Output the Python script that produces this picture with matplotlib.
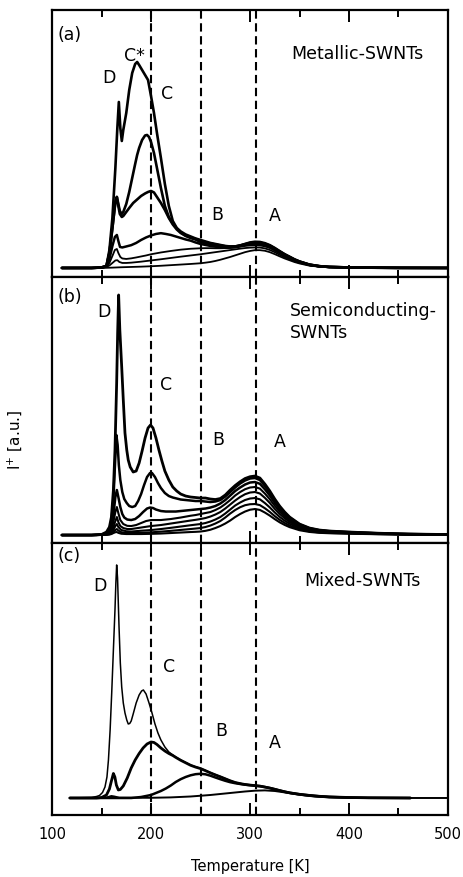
import numpy as np
import matplotlib
matplotlib.use("Agg")
import matplotlib.pyplot as plt
from matplotlib.ticker import MultipleLocator

plt.rcParams['font.family'] = ['DejaVu Sans']

# ---- Panel (a): Metallic-SWNTs, spectra for increasing dose (temperature K, intensity a.u.)
metallic_1 = [(110,0),(140,0),(150,0.5),(155,2),(158,18),(161,50),(164,100),(166,140),(167.5,166),(169,140),(170.5,127),(172,138),(175,155),(178,178),(181,195),(184,204),(186,206),(188,203),(191,198),(194,193),(197,188),(200,172),(203,155),(206,135),(210,110),(214,84),(218,62),(222,47),(226,40),(230,36.5),(235,33.5),(240,31.5),(245,29.5),(250,28),(255,26.5),(260,25),(265,24),(270,23),(275,22),(280,21.5),(285,21.5),(290,22.5),(295,24),(300,25.5),(305,26.2),(310,26),(315,24.8),(320,22.8),(325,20),(330,16.8),(335,13.8),(340,11.2),(345,8.6),(350,6.5),(360,3.4),(370,1.8),(380,1),(400,0.5),(420,0.3),(450,0.1),(500,0)]
metallic_2 = [(110,0),(140,0),(150,0.5),(155,2),(158,15),(161,40),(164,66),(165.5,71),(167,64),(168.5,57),(170.5,54),(172,56),(175,64),(178,76),(181,90),(184,104),(186,113),(188,120),(191,128),(194,132.5),(196,133),(198,131),(200,126),(203,115),(206,100),(210,80),(214,62),(218,51),(222,44.5),(226,39.5),(230,35.5),(235,32.5),(240,30.5),(245,29),(250,27),(255,25.5),(260,24.5),(265,23.5),(270,22.5),(275,21.7),(280,21.3),(285,21.5),(290,22.5),(295,23.8),(300,25),(305,25.6),(310,25.4),(315,24.2),(320,22.4),(325,19.6),(330,16.5),(335,13.5),(340,11),(345,8.4),(350,6.4),(360,3.3),(370,1.8),(380,1),(400,0.5),(420,0.3),(450,0.1),(500,0)]
metallic_3 = [(110,0),(140,0),(150,0.5),(155,2),(158,15),(161,40),(164,66),(165.5,71),(167,62),(168.5,54),(170.5,51),(172,52),(175,56),(178,60),(182,65),(186,68.5),(190,72),(194,74.5),(197,76),(200,77),(203,75.5),(206,71),(210,65),(214,58),(218,50),(222,43.5),(226,38.5),(230,35),(235,32),(240,30),(245,28.5),(250,26),(255,24.8),(260,23.8),(265,23),(270,22),(275,21.3),(280,21),(285,21.2),(290,22.2),(295,23.4),(300,24.5),(305,25),(310,24.8),(315,23.7),(320,22),(325,19.2),(330,16.2),(335,13.2),(340,10.7),(345,8.2),(350,6.2),(360,3.2),(370,1.7),(380,1),(400,0.5),(420,0.3),(450,0.1),(500,0)]
metallic_4 = [(110,0),(140,0),(150,0.3),(155,1.5),(158,9),(161,22),(163.5,31),(165.5,33),(167,27),(168.7,21),(171,20.5),(175,21.5),(180,22.8),(185,25),(190,28),(195,30.5),(200,32.5),(205,34),(210,34.8),(215,34),(220,33),(225,31.5),(230,30),(235,28.5),(240,27.3),(245,25.5),(250,24),(255,23),(260,22),(265,21.3),(270,20.8),(275,20.5),(280,20.5),(285,21),(290,22),(295,23),(300,23.8),(305,24.2),(310,24),(315,23),(320,21.2),(325,18.5),(330,15.6),(335,12.7),(340,10.3),(345,7.9),(350,6),(360,3.1),(370,1.7),(380,1),(400,0.5),(420,0.3),(450,0.1),(500,0)]
metallic_5 = [(110,0),(145,0),(150,0.3),(155,1.5),(158,5),(161,12),(163.5,18),(165.5,19),(167,15),(169,11),(171,9.5),(175,9),(180,9.6),(185,10.5),(190,11.5),(195,12.5),(200,13.7),(210,15.5),(220,17),(230,18.3),(240,19.2),(250,19.7),(255,19.8),(260,19.8),(265,19.7),(270,19.7),(275,19.8),(280,20),(285,20.5),(290,21.2),(295,22),(300,22.5),(305,22.7),(310,22.5),(315,21.6),(320,19.9),(325,17.4),(330,14.6),(335,11.9),(340,9.7),(345,7.4),(350,5.6),(360,2.9),(370,1.6),(380,0.9),(400,0.5),(420,0.3),(450,0.1),(500,0)]
metallic_6 = [(110,0),(145,0),(150,0.2),(155,1),(158,2.5),(161,5),(164,7.5),(166,7.8),(168,6),(171,5),(175,5),(180,5.3),(190,6.3),(200,7.5),(210,8.7),(220,10),(230,11.3),(240,12.5),(250,13.7),(255,14.4),(260,15.1),(265,15.8),(270,16.5),(275,17.2),(280,17.9),(285,18.6),(290,19.3),(295,19.9),(300,20.3),(305,20.5),(310,20.4),(315,19.6),(320,18),(325,15.8),(330,13.2),(335,10.8),(340,8.8),(345,6.7),(350,5.1),(360,2.7),(370,1.4),(380,0.8),(400,0.4),(420,0.2),(450,0.1),(500,0)]
metallic_7 = [(110,0),(150,0),(160,0.3),(170,0.7),(180,1),(190,1.3),(200,1.7),(210,2.2),(220,2.8),(230,3.4),(240,4),(250,4.7),(255,5.3),(260,6),(265,7),(270,8.2),(275,9.6),(280,11),(285,12.6),(290,14.2),(295,15.8),(300,17),(305,17.8),(310,17.8),(315,17.2),(320,15.8),(325,13.8),(330,11.6),(335,9.5),(340,7.7),(345,5.9),(350,4.5),(360,2.3),(370,1.3),(380,0.7),(400,0.4),(420,0.2),(450,0.1),(500,0)]

# ---- Panel (b): Semiconducting-SWNTs
semi_1 = [(110,0),(140,0),(150,0.5),(155,3),(158,8),(160,18),(162,45),(163.6,85),(165.3,152),(166.3,202),(167.3,240),(168.5,205),(170.4,168),(172,135),(173.7,102),(175.5,85),(177,75),(179,68),(182,63),(185,64),(188,72),(191,84),(194,97),(197,107),(199.5,110),(202,107),(205,97),(208,85),(211,74),(214,64),(218,55),(222,48),(226,44),(230,41),(235,39),(240,38),(245,37.5),(250,37),(255,37),(260,36),(265,35.5),(270,36.5),(275,40),(280,45),(285,49.5),(290,53.3),(295,56.5),(300,58.3),(305,59),(310,57),(315,51),(320,44),(325,36),(330,28.9),(335,23),(340,18),(350,11),(360,7),(370,5),(380,4),(400,3),(430,1.8),(460,1),(500,0.5)]
semi_2 = [(110,0),(140,0),(150,0.5),(155,2),(158,6),(160,14),(162,35),(163.6,70),(165,100),(166.3,90),(167.5,70),(169,55),(171,43),(173,36),(175.5,32),(178,29),(181,28),(184,29),(187,34),(190,41),(193,50),(196,58),(199,62),(201,62),(204,58),(207,52),(210,47),(214,42),(218,39),(222,37.5),(226,36.5),(230,35.5),(235,35),(240,34.5),(245,34),(250,34),(255,33.5),(260,33),(265,33.5),(270,35),(275,38.5),(280,43),(285,47.5),(290,51.5),(295,54.5),(300,56.5),(305,57),(310,55),(315,49.2),(320,42.5),(325,34.8),(330,27.9),(335,22.2),(340,17.4),(350,10.6),(360,6.8),(370,4.8),(380,3.9),(400,2.9),(430,1.7),(460,1),(500,0.5)]
semi_3 = [(110,0),(140,0),(150,0.3),(155,1.5),(158,4),(160,9),(162,20),(164,38),(165.5,45),(167,38),(169,28),(171,21),(173,17.5),(176,15.5),(180,15),(184,16),(188,19),(192,23),(196,26.5),(199,27.5),(202,27),(205,25.5),(210,24),(215,23.5),(220,23.5),(225,23.5),(230,24),(235,24.5),(240,25),(245,25.5),(250,26),(255,26.5),(260,27.5),(265,29),(270,31.5),(275,35),(280,39.5),(285,44),(290,47.5),(295,50.5),(300,52.5),(305,53),(310,51.2),(315,45.8),(320,39.5),(325,32.3),(330,26),(335,20.7),(340,16.2),(350,9.9),(360,6.3),(370,4.5),(380,3.6),(400,2.7),(430,1.6),(460,0.9),(500,0.4)]
semi_4 = [(110,0),(140,0),(150,0.3),(155,1.2),(158,3),(160,6),(162,13),(164,23),(165.5,28),(167,22),(169,15),(172,11),(176,9.2),(180,9),(185,10),(190,12),(195,14),(200,15),(205,15),(210,15),(220,16),(230,17.5),(240,19.3),(245,20),(250,21),(255,22),(260,23),(265,25),(270,27.5),(275,31),(280,35),(285,39.5),(290,43),(295,45.8),(300,47.5),(305,48),(310,46.4),(315,41.5),(320,35.8),(325,29.3),(330,23.5),(335,18.7),(340,14.6),(350,8.9),(360,5.7),(370,4.1),(380,3.3),(400,2.4),(430,1.4),(460,0.8),(500,0.4)]
semi_5 = [(110,0),(140,0),(150,0.2),(155,0.8),(158,2),(160,4),(162,8),(164,14),(165.5,18),(167,13),(169,9),(172,7),(176,6),(180,6),(190,7.5),(200,9),(210,10),(220,11.5),(230,13),(240,14.5),(245,15.2),(250,16),(255,17),(260,18.5),(265,20.5),(270,23),(275,26.5),(280,30.5),(285,34.5),(290,38),(295,40.8),(300,42.5),(305,43),(310,41.5),(315,37.2),(320,32.1),(325,26.2),(330,21.1),(335,16.8),(340,13.1),(350,8),(360,5.1),(370,3.7),(380,2.9),(400,2.2),(430,1.3),(460,0.7),(500,0.3)]
semi_6 = [(110,0),(145,0),(155,0.5),(158,1.2),(160,2.5),(162,5),(164,9),(165.5,11),(167,8),(170,5),(175,3.8),(180,3.5),(190,4.3),(200,5),(210,6),(220,7.2),(230,8.5),(240,9.8),(245,10.4),(250,11),(255,12),(260,13.5),(265,15.5),(270,18),(275,21.5),(280,25.5),(285,29.5),(290,32.5),(295,35),(300,36.5),(305,37),(310,35.7),(315,32),(320,27.6),(325,22.6),(330,18.1),(335,14.4),(340,11.3),(350,6.9),(360,4.4),(370,3.1),(380,2.5),(400,1.9),(430,1.1),(460,0.6),(500,0.3)]
semi_7 = [(110,0),(145,0),(155,0.3),(158,0.8),(160,1.5),(162,3),(164,5),(165.5,6),(167,4.5),(170,2.8),(175,2),(180,2),(190,2.3),(200,2.7),(210,3.4),(220,4.2),(230,5.1),(240,6),(245,6.5),(250,7),(255,8),(260,9.5),(265,11.5),(270,14),(275,17.5),(280,21.5),(285,25),(290,27.8),(295,29.8),(300,30.8),(305,31),(310,29.9),(315,26.8),(320,23.1),(325,18.9),(330,15.2),(335,12.1),(340,9.5),(350,5.8),(360,3.7),(370,2.6),(380,2.1),(400,1.6),(430,0.9),(460,0.5),(500,0.2)]
semi_8 = [(110,0),(145,0),(155,0.2),(158,0.5),(160,1),(162,2),(164,2.8),(165.5,3),(167,2.2),(170,1.3),(175,1),(180,1),(190,1),(200,1.2),(210,1.5),(220,2),(230,2.5),(240,3),(245,3.2),(250,3.5),(255,4.2),(260,5.3),(265,7),(270,9),(275,11.5),(280,14.5),(285,18),(290,21),(295,23.5),(300,25.3),(305,26),(310,25.1),(315,22.5),(320,19.4),(325,15.9),(330,12.7),(335,10.1),(340,7.9),(350,4.8),(360,3.1),(370,2.2),(380,1.8),(400,1.3),(430,0.8),(460,0.4),(500,0.2)]

# ---- Panel (c): Mixed-SWNTs
mixed_1 = [(118,0),(140,0.5),(145,1.5),(148,2.5),(151,5.5),(153.5,11),(155.5,21),(157,38),(158.7,68),(160.3,105),(162,148),(163.6,188),(164.5,215),(165.3,233),(166.2,220),(167.7,171),(169,135),(170.4,111),(172,95),(173.7,85),(175.5,78),(177,74),(178.5,74.5),(180,77),(182,84),(185,95),(188,103),(190.5,107),(192.3,108),(195,104),(198,95),(201,85),(204,74),(207,65),(210,58),(214,51),(218,46),(222,43),(225,41),(230,38),(235,35.5),(240,33),(245,31.2),(250,29.7),(255,27.6),(260,25.4),(265,23.4),(270,21.5),(275,19.5),(280,17.4),(285,15.7),(290,14.6),(295,13.6),(300,13),(305,12.5),(310,12),(315,11),(320,10),(325,8.8),(330,7.5),(335,6.3),(340,5.3),(350,3.8),(360,2.7),(370,1.8),(380,1.2),(400,0.5),(420,0.2),(462,0)]
mixed_2 = [(118,0),(145,0),(150,0.5),(155,3),(158,9),(160,17),(162,24.5),(163.5,21),(165,13),(167,8),(169,8.5),(172,12),(176,20),(180,30),(184,38),(188,44.5),(192,50),(196,54),(200,56),(203,55.5),(206,53.5),(210,50),(214,47),(218,44.5),(222,42.5),(225,40.6),(230,37.7),(235,35.2),(240,32.7),(245,30.9),(250,29.4),(255,27.3),(260,25.1),(265,23.1),(270,21.2),(275,19.2),(280,17.2),(285,15.5),(290,14.4),(295,13.5),(300,12.9),(305,12.4),(310,11.9),(315,10.9),(320,9.9),(325,8.7),(330,7.4),(335,6.2),(340,5.2),(350,3.7),(360,2.6),(370,1.7),(380,1.1),(400,0.5),(420,0.2),(462,0)]
mixed_3 = [(118,0),(180,0),(185,0.5),(190,1),(195,2),(200,3),(205,5),(210,7),(215,9.5),(220,12.5),(225,16),(230,18.8),(235,21),(240,22.7),(245,23.8),(250,24.2),(255,23.7),(260,22.3),(265,20.5),(270,18.8),(275,17.2),(280,15.8),(285,14.8),(290,14),(295,13.3),(300,12.8),(305,12.3),(310,11.8),(315,11),(320,10),(325,8.8),(330,7.5),(335,6.3),(340,5.2),(350,3.7),(360,2.6),(370,1.7),(380,1.1),(400,0.4),(420,0.2),(462,0)]
mixed_4 = [(118,0),(150,0),(155,0.5),(160,2),(163,1.5),(168,0.3),(200,0.2),(220,0.6),(240,1.5),(260,3),(280,5),(295,6.5),(305,7.3),(315,7.6),(325,7),(335,5.6),(345,4),(355,2.6),(365,1.5),(380,0.6),(400,0.2),(420,0),(500,0)]

# Desorption peak positions marked by dashed guides (K)
peak_temps = [200, 250, 306]
x_ticks = [100, 200, 300, 400, 500]

panels = [
    dict(curves=[metallic_1, metallic_2, metallic_3, metallic_4, metallic_5, metallic_6, metallic_7],
         widths=[1.9, 1.9, 1.9, 1.8, 1.3, 1.3, 1.3], ylim=(-9, 258), rect=[0.1121, 0.6842, 0.8534, 0.3044],
         tag="(a)", tag_y=0.906, title="Metallic-SWNTs", title_xy=(0.770, 0.835), title_ha="center",
         letters=[("C*", 182.8, 212), ("D", 157.6, 190), ("C", 216.2, 174), ("B", 266.7, 53), ("A", 325.3, 52)]),
    dict(curves=[semi_1, semi_2, semi_3, semi_4, semi_5, semi_6, semi_7, semi_8],
         widths=[2.0, 1.8, 1.8, 1.5, 1.5, 1.5, 1.5, 1.5], ylim=(-8, 258), rect=[0.1121, 0.3808, 0.8534, 0.3034],
         tag="(b)", tag_y=0.925, title="Semiconducting-\nSWNTs", title_xy=(0.601, 0.831), title_ha="left",
         letters=[("D", 152.0, 223), ("C", 215.2, 150), ("B", 267.7, 95), ("A", 330.3, 93)]),
    dict(curves=[mixed_1, mixed_2, mixed_3, mixed_4],
         widths=[1.1, 2.0, 1.8, 1.4], ylim=(-17, 255), rect=[0.1121, 0.0707, 0.8534, 0.3102],
         tag="(c)", tag_y=0.952, title="Mixed-SWNTs", title_xy=(0.783, 0.860), title_ha="center",
         letters=[("D", 148.5, 212), ("C", 218.2, 131), ("B", 270.7, 67), ("A", 325.3, 55)]),
]

fig = plt.figure(figsize=(4.64, 8.77), dpi=100)
label_size = 12.5

for i, p in enumerate(panels):
    ax = fig.add_axes(p["rect"])
    for pts, lw in zip(p["curves"], p["widths"]):
        arr = np.array(pts, dtype=float)
        ax.plot(arr[:, 0], arr[:, 1], color="black", lw=lw,
                solid_joinstyle="round", solid_capstyle="round")
    for t in peak_temps:
        ax.axvline(t, color="black", lw=1.5, linestyle=(0, (4, 2.2)))
    ax.set_xlim(100, 500)
    ax.set_ylim(*p["ylim"])
    ax.set_yticks([])
    ax.xaxis.set_major_locator(MultipleLocator(100))
    ax.xaxis.set_minor_locator(MultipleLocator(50))
    ax.tick_params(axis="x", which="both", direction="in", top=True, bottom=True, width=1.4)
    ax.tick_params(axis="x", which="major", length=8.5, labelsize=10.5, pad=9)
    ax.tick_params(axis="x", which="minor", length=5)
    for s in ax.spines.values():
        s.set_linewidth(1.6)
    if i < 2:
        ax.tick_params(axis="x", labelbottom=False)
    else:
        ax.set_xticks(x_ticks)
        ax.set_xlabel("Temperature [K]", fontsize=10.5, labelpad=12)

    ax.text(0.015, p["tag_y"], p["tag"], transform=ax.transAxes, ha="left", va="center",
            fontsize=label_size)
    ax.text(p["title_xy"][0], p["title_xy"][1], p["title"], transform=ax.transAxes,
            ha=p["title_ha"], va="center", fontsize=label_size, linespacing=1.25)
    for txt, tx, ty in p["letters"]:
        ax.text(tx, ty, txt, ha="center", va="center", fontsize=label_size)

fig.text(0.032, 0.498, "I$^{+}$ [a.u.]", rotation=90, ha="center", va="center", fontsize=11)

fig.savefig("out.png", dpi=100)
